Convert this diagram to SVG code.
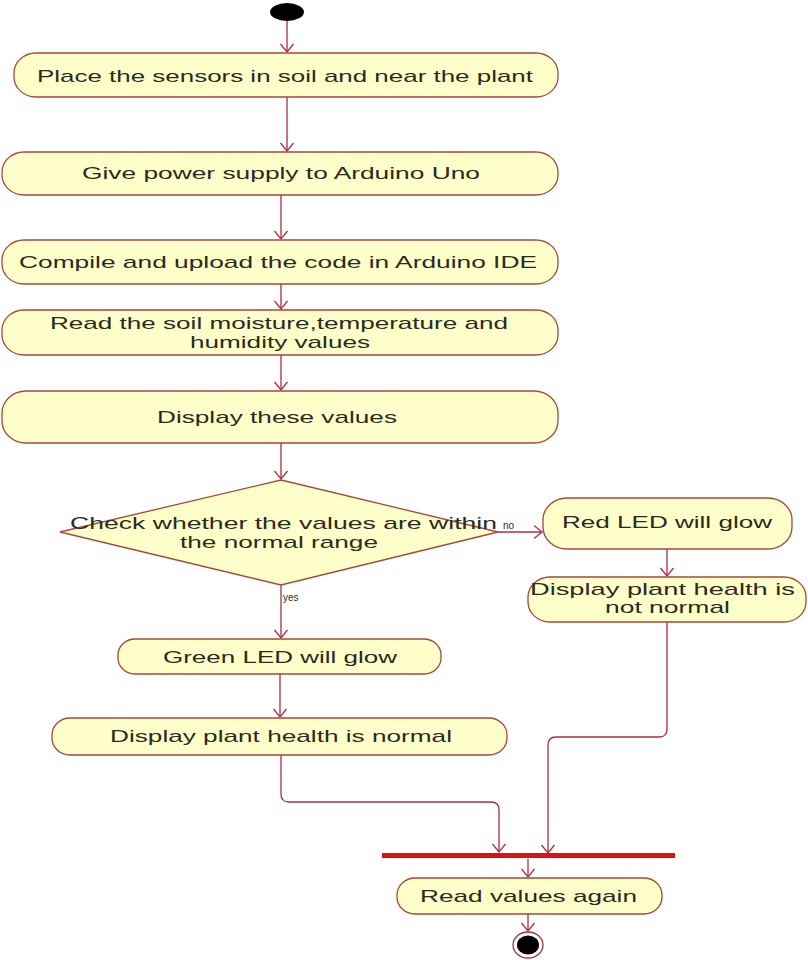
<svg xmlns="http://www.w3.org/2000/svg" width="808" height="960" viewBox="0 0 808 960">
<defs>
<marker id="arr" markerUnits="userSpaceOnUse" markerWidth="16" markerHeight="16" viewBox="-9 -8 10 16" refX="0" refY="0" orient="auto">
<path d="M-8,-6.5 L0,0 L-8,6.5" fill="none" stroke="#B0303C" stroke-width="1.3"/>
</marker>
<style>
.act rect,.act polygon{fill:#FFFFCA;stroke:#A8473C;stroke-width:1.3}
.t{font-family:"Liberation Sans",Arial,sans-serif;font-size:17px;fill:#2A2A1E}
.s{font-family:"Liberation Sans",Arial,sans-serif;font-size:10px;fill:#2A2A1E}
.c{fill:none;stroke:#A8303C;stroke-width:1.3;marker-end:url(#arr)}
</style>
</defs>
<rect width="808" height="960" fill="#FFFFFF"/>
<g id="connectors">
<path class="c" d="M287,21 L287,52"/>
<path class="c" d="M287,97 L287,151"/>
<path class="c" d="M281,195 L281,239"/>
<path class="c" d="M281,284 L281,309"/>
<path class="c" d="M281,355 L281,390"/>
<path class="c" d="M281,443 L281,479"/>
<path class="c" d="M498,532 L542,532"/>
<path class="c" d="M281,585 L281,638"/>
<path class="c" d="M667,549 L667,576"/>
<path class="c" d="M280,674 L280,717"/>
<path class="c" d="M281,755 L281,794 Q281,802 289,802 L491,802 Q499,802 499,810 L499,852"/>
<path class="c" d="M667,622 L667,729 Q667,737 659,737 L556,737 Q548,737 548,745 L548,853"/>
<path class="c" d="M528,859 L528,877"/>
<path class="c" d="M528,914 L528,931"/>
<text class="s" x="503" y="529">no</text>
<text class="s" x="283" y="601">yes</text>
</g>
<g id="start"><ellipse cx="287" cy="12" rx="17" ry="9" fill="#000000"/></g>
<g id="n1" class="act"><rect x="14" y="53" width="544" height="44" rx="22" ry="20"/><text class="t" x="37" y="82" textLength="496" lengthAdjust="spacingAndGlyphs">Place the sensors in soil and near the plant</text></g>
<g id="n2" class="act"><rect x="2" y="152" width="556" height="43" rx="22" ry="20"/><text class="t" x="82" y="179" textLength="398" lengthAdjust="spacingAndGlyphs">Give power supply to Arduino Uno</text></g>
<g id="n3" class="act"><rect x="2" y="240" width="556" height="44" rx="22" ry="20"/><text class="t" x="19" y="268" textLength="518" lengthAdjust="spacingAndGlyphs">Compile and upload the code in Arduino IDE</text></g>
<g id="n4" class="act"><rect x="2" y="310" width="556" height="45" rx="22" ry="20"/><text class="t" x="50" y="329" textLength="458" lengthAdjust="spacingAndGlyphs">Read the soil moisture,temperature and</text><text class="t" x="190" y="348" textLength="180" lengthAdjust="spacingAndGlyphs">humidity values</text></g>
<g id="n5" class="act"><rect x="2" y="391" width="556" height="52" rx="24" ry="22"/><text class="t" x="157" y="423" textLength="240" lengthAdjust="spacingAndGlyphs">Display these values</text></g>
<g id="d1" class="act"><polygon points="281,480 498,532 281,585 60,532"/><text class="t" x="70" y="529" textLength="427" lengthAdjust="spacingAndGlyphs">Check whether the values are within</text><text class="t" x="180" y="548" textLength="198" lengthAdjust="spacingAndGlyphs">the normal range</text></g>
<g id="n6" class="act"><rect x="543" y="498" width="249" height="51" rx="24" ry="22"/><text class="t" x="562" y="528" textLength="210" lengthAdjust="spacingAndGlyphs">Red LED will glow</text></g>
<g id="n7" class="act"><rect x="528" y="577" width="278" height="45" rx="22" ry="20"/><text class="t" x="530" y="595" textLength="265" lengthAdjust="spacingAndGlyphs">Display plant health is</text><text class="t" x="605" y="613" textLength="125" lengthAdjust="spacingAndGlyphs">not normal</text></g>
<g id="n8" class="act"><rect x="118" y="639" width="323" height="35" rx="17" ry="16"/><text class="t" x="163" y="663" textLength="234" lengthAdjust="spacingAndGlyphs">Green LED will glow</text></g>
<g id="n9" class="act"><rect x="52" y="718" width="455" height="37" rx="18" ry="17"/><text class="t" x="110" y="742" textLength="342" lengthAdjust="spacingAndGlyphs">Display plant health is normal</text></g>
<g id="join"><rect x="382" y="853" width="293" height="5" fill="#E01010"/></g>
<g id="n10" class="act"><rect x="397" y="878" width="265" height="36" rx="18" ry="17"/><text class="t" x="420" y="902" textLength="217" lengthAdjust="spacingAndGlyphs">Read values again</text></g>
<g id="end"><ellipse cx="528" cy="945" rx="15" ry="13" fill="#FFFFFF" stroke="#A8303C" stroke-width="1.3"/><ellipse cx="528" cy="945" rx="11" ry="9.5" fill="#000000"/></g>
</svg>
